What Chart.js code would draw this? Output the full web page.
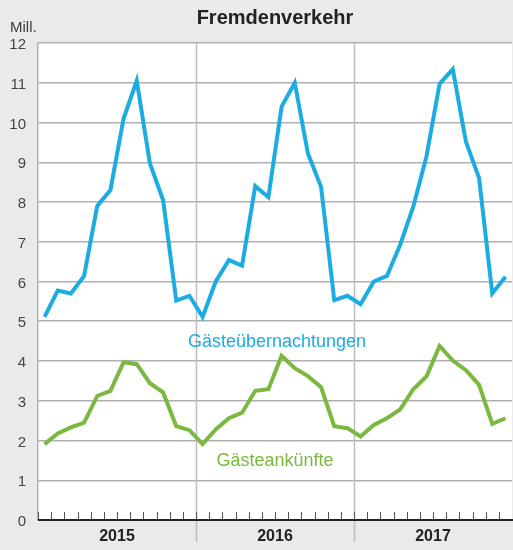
<!DOCTYPE html>
<html>
<head>
<meta charset="utf-8">
<script src="https://cdn.jsdelivr.net/npm/chart.js@4/dist/chart.umd.min.js"></script>
<style>
  html, body { margin: 0; padding: 0; background: #eaeaec; }
  #wrap { width: 513px; height: 550px; }
</style>
</head>
<body>
<div id="wrap"><canvas id="c" width="513" height="550"></canvas></div>
<script>
// Monthly tourism figures (millions), Jan 2015 – Dec 2017
const years = ['2015', '2016', '2017'];
const monthNames = ['Jan', 'Feb', 'Mär', 'Apr', 'Mai', 'Jun', 'Jul', 'Aug', 'Sep', 'Okt', 'Nov', 'Dez'];
const categories = years.flatMap(y => monthNames.map(m => m + ' ' + y));

const uebernachtungen = [
  5.11, 5.77, 5.70, 6.14, 7.90, 8.30, 10.10, 11.05, 8.97, 8.05, 5.52, 5.64,
  5.11, 6.00, 6.54, 6.40, 8.40, 8.12, 10.40, 11.00, 9.22, 8.38, 5.53, 5.64,
  5.43, 6.00, 6.14, 6.92, 7.88, 9.14, 10.97, 11.34, 9.52, 8.60, 5.70, 6.12
];
const ankuenfte = [
  1.91, 2.18, 2.33, 2.45, 3.12, 3.25, 3.97, 3.92, 3.44, 3.21, 2.36, 2.26,
  1.91, 2.28, 2.56, 2.70, 3.25, 3.29, 4.13, 3.82, 3.62, 3.34, 2.36, 2.31,
  2.10, 2.39, 2.56, 2.78, 3.29, 3.61, 4.38, 4.01, 3.77, 3.40, 2.42, 2.56
];
const yTicks = { min: 0, max: 12, step: 1 };

const BLUE = '#1badE2';
const GREEN = '#7ab83f';
const FONT = "'Liberation Sans', Arial, sans-serif";

// Frame, year separators, month ticks, title and series captions
const decorations = {
  id: 'decorations',
  beforeDraw(chart) {
    const { ctx, chartArea: a } = chart;
    ctx.save();
    ctx.fillStyle = '#eaeaec';
    ctx.fillRect(0, 0, chart.width, chart.height);
    ctx.fillStyle = '#ffffff';
    ctx.fillRect(a.left, a.top, a.right - a.left, a.bottom - a.top);
    ctx.restore();
  },
  beforeDatasetsDraw(chart) {
    const { ctx, chartArea: a, scales: { x } } = chart;
    const half = (x.getPixelForValue(1) - x.getPixelForValue(0)) / 2;
    ctx.save();
    ctx.strokeStyle = '#bdbdbd';
    ctx.lineWidth = 1.5;
    for (let i = 1; i < years.length; i++) {
      const px = Math.round(x.getPixelForValue(i * 12) - half) + 0.5;
      ctx.beginPath();
      ctx.moveTo(px, a.top);
      ctx.lineTo(px, a.bottom + 22);
      ctx.stroke();
    }
    ctx.restore();
  },
  afterDatasetsDraw(chart) {
    const { ctx, chartArea: a, scales: { x, y } } = chart;
    const half = (x.getPixelForValue(1) - x.getPixelForValue(0)) / 2;
    ctx.save();
    // month ticks
    ctx.strokeStyle = '#555555';
    ctx.lineWidth = 1;
    for (let i = 0; i < categories.length; i++) {
      const px = Math.round(x.getPixelForValue(i) - half) + 0.5;
      ctx.beginPath();
      ctx.moveTo(px, a.bottom);
      ctx.lineTo(px, a.bottom - 8);
      ctx.stroke();
    }
    // base line
    ctx.strokeStyle = '#222222';
    ctx.lineWidth = 2;
    ctx.beginPath();
    ctx.moveTo(a.left, a.bottom);
    ctx.lineTo(a.right + 1, a.bottom);
    ctx.stroke();

    // year labels
    ctx.fillStyle = '#222222';
    ctx.font = 'bold 16px ' + FONT;
    ctx.textAlign = 'center';
    ctx.textBaseline = 'middle';
    years.forEach((yr, k) => {
      const cx = (x.getPixelForValue(k * 12) + x.getPixelForValue(k * 12 + 11)) / 2;
      ctx.fillText(yr, cx, a.bottom + 17);
    });

    // title and unit
    const mid = (a.left + a.right) / 2;
    ctx.font = 'bold 20px ' + FONT;
    ctx.fillText('Fremdenverkehr', mid, 18);
    ctx.font = '15px ' + FONT;
    ctx.fillStyle = '#3c3c3c';
    ctx.textAlign = 'left';
    ctx.textBaseline = 'alphabetic';
    ctx.fillText('Mill.', 10, 32);

    // series captions
    ctx.textAlign = 'center';
    ctx.textBaseline = 'middle';
    ctx.font = '18px ' + FONT;
    ctx.fillStyle = BLUE;
    ctx.fillText('Gästeübernachtungen', mid + 2, y.getPixelForValue(4.48));
    ctx.fillStyle = GREEN;
    ctx.fillText('Gästeankünfte', mid, y.getPixelForValue(1.48));
    ctx.restore();
  }
};

new Chart(document.getElementById('c'), {
  type: 'line',
  data: {
    labels: categories,
    datasets: [
      { label: 'Gästeübernachtungen', data: uebernachtungen, borderColor: BLUE, borderWidth: 4, pointRadius: 0, tension: 0, fill: false },
      { label: 'Gästeankünfte', data: ankuenfte, borderColor: GREEN, borderWidth: 4, pointRadius: 0, tension: 0, fill: false }
    ]
  },
  options: {
    responsive: false,
    animation: false,
    devicePixelRatio: 1,
    layout: { padding: { top: 43, right: 1, left: 0, bottom: 0 } },
    plugins: { legend: { display: false }, tooltip: { enabled: false }, title: { display: false } },
    scales: {
      x: {
        type: 'category',
        offset: true,
        grid: { display: false },
        border: { display: false },
        ticks: { display: false },
        afterFit(s) { s.height = 30; }
      },
      y: {
        min: yTicks.min,
        max: yTicks.max,
        ticks: { stepSize: yTicks.step, color: '#444444', font: { family: FONT, size: 15 }, padding: 12, labelOffset: 2 },
        grid: { color: '#b0b0b0', lineWidth: 1.5, drawTicks: false },
        border: { display: true, color: '#b0b0b0', width: 1.5 },
        afterFit(s) { s.width = 38; }
      }
    }
  },
  plugins: [decorations]
});
</script>
</body>
</html>
